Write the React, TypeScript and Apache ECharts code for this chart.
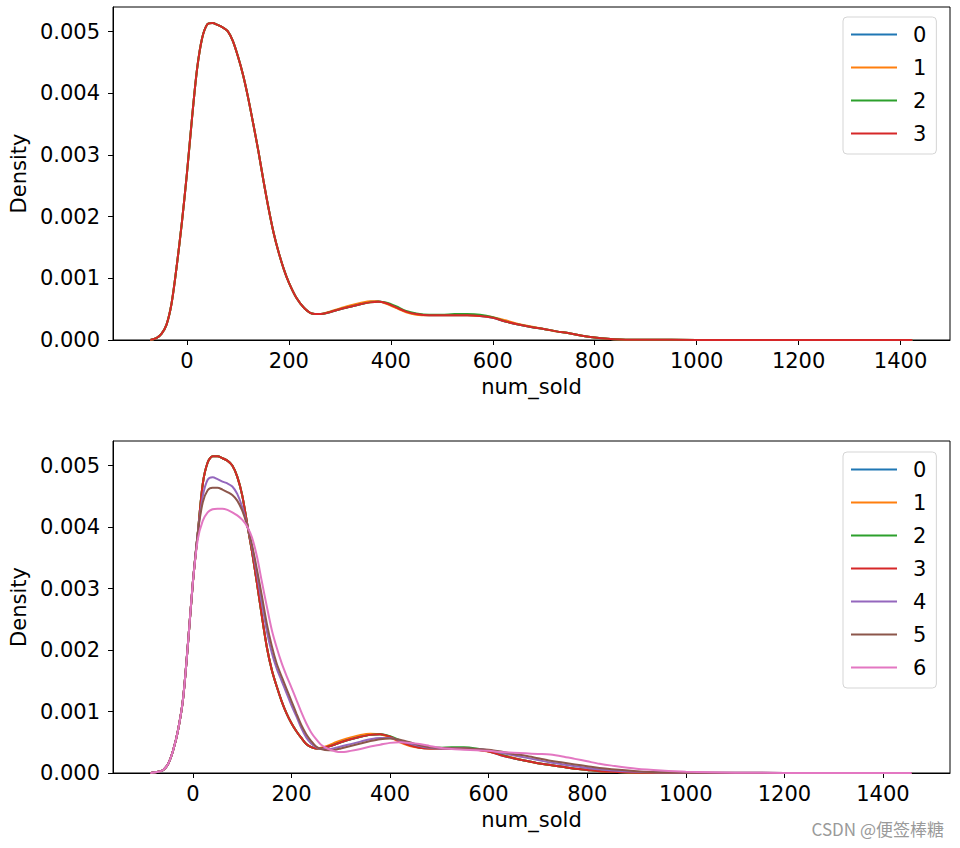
import React, { useEffect, useRef } from "react";
import * as echarts from "echarts";

// ---------- data ----------
const COLORS = ["#1f77b4", "#ff7f0e", "#2ca02c", "#d62728", "#9467bd", "#8c564b", "#e377c2"];

const TOP_X = [-72, -60, -50, -40, -30, -20, -10, 0, 10, 20, 30, 40, 50, 60, 70, 80, 90, 100, 110, 120, 130, 140, 150, 160, 170, 180, 190, 200, 215, 230, 245, 260, 280, 300, 320, 340, 360, 375, 390, 410, 430, 450, 475, 500, 525, 550, 575, 600, 625, 650, 675, 700, 725, 750, 775, 800, 825, 850, 900, 1000, 1100, 1200, 1300, 1423];

const TOP_0 = [0, 0.00003, 0.0001, 0.00025, 0.0006, 0.0012, 0.0019, 0.0027, 0.0036, 0.0044, 0.0049, 0.00512, 0.00514, 0.00511, 0.00507, 0.00501, 0.00485, 0.0046, 0.0043, 0.00393, 0.00351, 0.00307, 0.00259, 0.00214, 0.00174, 0.00142, 0.00115, 0.00093, 0.00068, 0.00052, 0.00043, 0.00042, 0.00045, 0.0005, 0.00054, 0.00058, 0.00062, 0.00063, 0.0006, 0.00053, 0.00046, 0.00042, 0.0004, 0.0004, 0.0004, 0.0004, 0.00039, 0.00036, 0.0003, 0.00025, 0.00021, 0.00018, 0.00014, 0.00011, 0.00007, 0.00004, 0.00002, 0.00001, 0.000004, 0.000002, 0.000002, 0.000002, 0.000001, 0];
const TOP_1 = [0, 0.00003, 0.0001, 0.00025, 0.0006, 0.0012, 0.0019, 0.0027, 0.0036, 0.0044, 0.0049, 0.00512, 0.00514, 0.00511, 0.00507, 0.00501, 0.00485, 0.0046, 0.0043, 0.00393, 0.00351, 0.00307, 0.00259, 0.00214, 0.00174, 0.00142, 0.00115, 0.00093, 0.00068, 0.00052, 0.00043, 0.00042, 0.00046, 0.00051, 0.00056, 0.0006, 0.00063, 0.00063, 0.00059, 0.00052, 0.00045, 0.00041, 0.0004, 0.0004, 0.0004, 0.0004, 0.00039, 0.00037, 0.00032, 0.00026, 0.00022, 0.00018, 0.00014, 0.00011, 0.00007, 0.00004, 0.00002, 0.00001, 0.000004, 0.000002, 0.000002, 0.000002, 0.000001, 0];
const TOP_2 = [0, 0.00003, 0.0001, 0.00025, 0.0006, 0.0012, 0.0019, 0.0027, 0.0036, 0.0044, 0.0049, 0.00512, 0.00514, 0.00511, 0.00507, 0.00501, 0.00485, 0.0046, 0.0043, 0.00393, 0.00351, 0.00307, 0.00259, 0.00214, 0.00174, 0.00142, 0.00115, 0.00093, 0.00068, 0.00052, 0.00043, 0.00042, 0.00045, 0.0005, 0.00054, 0.00058, 0.00061, 0.00062, 0.00061, 0.00055, 0.00047, 0.00043, 0.00041, 0.00041, 0.00042, 0.00042, 0.00041, 0.00037, 0.0003, 0.00025, 0.00021, 0.00018, 0.00014, 0.00011, 0.00007, 0.00004, 0.00002, 0.00001, 0.000004, 0.000002, 0.000002, 0.000002, 0.000001, 0];
const TOP_3 = [0, 0.00003, 0.0001, 0.00025, 0.0006, 0.0012, 0.0019, 0.0027, 0.0036, 0.0044, 0.0049, 0.00512, 0.00514, 0.00511, 0.00507, 0.00501, 0.00485, 0.0046, 0.0043, 0.00393, 0.00351, 0.00307, 0.00259, 0.00214, 0.00174, 0.00142, 0.00115, 0.00093, 0.00068, 0.00052, 0.00043, 0.00042, 0.00045, 0.0005, 0.00054, 0.00058, 0.00061, 0.00062, 0.0006, 0.00053, 0.00046, 0.00042, 0.0004, 0.0004, 0.0004, 0.0004, 0.00039, 0.00036, 0.0003, 0.00025, 0.00021, 0.00018, 0.00014, 0.00011, 0.00007, 0.00004, 0.00002, 0.00001, 0.000004, 0.000002, 0.000002, 0.000002, 0.000001, 0];

const BOT_X = [-86, -70, -60, -50, -40, -30, -20, -10, 0, 10, 20, 30, 40, 50, 60, 70, 80, 90, 100, 110, 120, 130, 140, 150, 160, 170, 180, 190, 200, 210, 220, 230, 240, 250, 260, 275, 290, 300, 320, 340, 360, 380, 400, 420, 440, 460, 480, 500, 525, 550, 575, 600, 625, 650, 675, 700, 725, 750, 775, 800, 825, 850, 900, 950, 1000, 1100, 1200, 1300, 1458];

const BOT_0 = [0, 0.00002, 0.00005, 0.00015, 0.00037, 0.0007, 0.0012, 0.0021, 0.0031, 0.0039, 0.0047, 0.00505, 0.00515, 0.00515, 0.00512, 0.00508, 0.005, 0.00482, 0.00452, 0.00406, 0.0036, 0.00309, 0.00255, 0.00205, 0.00168, 0.00141, 0.00117, 0.00097, 0.00081, 0.00068, 0.00057, 0.00047, 0.00042, 0.0004, 0.0004, 0.00043, 0.00047, 0.0005, 0.00055, 0.00059, 0.00062, 0.00063, 0.00059, 0.00051, 0.00045, 0.00041, 0.0004, 0.0004, 0.0004, 0.0004, 0.00038, 0.00035, 0.00029, 0.00024, 0.0002, 0.00016, 0.00013, 0.0001, 0.00007, 0.00005, 0.00003, 0.00002, 0.000005, 0.000003, 0.000002, 0.000002, 0.000001, 0.000001, 0];
const BOT_1 = [0, 0.00002, 0.00005, 0.00015, 0.00037, 0.0007, 0.0012, 0.0021, 0.0031, 0.0039, 0.0047, 0.00505, 0.00515, 0.00515, 0.00512, 0.00508, 0.005, 0.00482, 0.00452, 0.00406, 0.0036, 0.00309, 0.00255, 0.00205, 0.00168, 0.00141, 0.00117, 0.00097, 0.00081, 0.00068, 0.00057, 0.00047, 0.00042, 0.0004, 0.00041, 0.00045, 0.0005, 0.00053, 0.00058, 0.00062, 0.00064, 0.00063, 0.00058, 0.0005, 0.00044, 0.00041, 0.0004, 0.0004, 0.0004, 0.0004, 0.00038, 0.00035, 0.0003, 0.00025, 0.0002, 0.00016, 0.00013, 0.0001, 0.00007, 0.00005, 0.00003, 0.00002, 0.000005, 0.000003, 0.000002, 0.000002, 0.000001, 0.000001, 0];
const BOT_2 = [0, 0.00002, 0.00005, 0.00015, 0.00037, 0.0007, 0.0012, 0.0021, 0.0031, 0.0039, 0.0047, 0.00505, 0.00515, 0.00515, 0.00512, 0.00508, 0.005, 0.00482, 0.00452, 0.00406, 0.0036, 0.00309, 0.00255, 0.00205, 0.00168, 0.00141, 0.00117, 0.00097, 0.00081, 0.00068, 0.00057, 0.00047, 0.00042, 0.0004, 0.0004, 0.00043, 0.00047, 0.0005, 0.00055, 0.00059, 0.00062, 0.00063, 0.0006, 0.00053, 0.00046, 0.00042, 0.00041, 0.00041, 0.00042, 0.00042, 0.0004, 0.00036, 0.0003, 0.00024, 0.0002, 0.00016, 0.00013, 0.0001, 0.00007, 0.00005, 0.00003, 0.00002, 0.000005, 0.000003, 0.000002, 0.000002, 0.000001, 0.000001, 0];
const BOT_3 = [0, 0.00002, 0.00005, 0.00015, 0.00037, 0.0007, 0.0012, 0.0021, 0.0031, 0.0039, 0.0047, 0.00505, 0.00515, 0.00515, 0.00512, 0.00508, 0.005, 0.00482, 0.00452, 0.00406, 0.0036, 0.00309, 0.00255, 0.00205, 0.00168, 0.00141, 0.00117, 0.00097, 0.00081, 0.00068, 0.00057, 0.00047, 0.00042, 0.0004, 0.0004, 0.00043, 0.00047, 0.0005, 0.00055, 0.00059, 0.00062, 0.00063, 0.00059, 0.00051, 0.00045, 0.00041, 0.0004, 0.0004, 0.0004, 0.0004, 0.00038, 0.00035, 0.00029, 0.00024, 0.0002, 0.00016, 0.00013, 0.0001, 0.00007, 0.00005, 0.00003, 0.00002, 0.000005, 0.000003, 0.000002, 0.000002, 0.000001, 0.000001, 0];
const BOT_4 = [0, 0.00002, 0.00005, 0.00015, 0.00037, 0.0007, 0.0012, 0.0021, 0.0031, 0.0039, 0.0045, 0.00477, 0.00481, 0.00478, 0.00474, 0.00471, 0.00466, 0.00454, 0.00433, 0.00404, 0.00368, 0.00324, 0.00276, 0.00231, 0.00196, 0.0017, 0.0015, 0.0013, 0.0011, 0.00092, 0.00073, 0.00058, 0.00048, 0.00042, 0.00039, 0.00039, 0.00041, 0.00043, 0.00047, 0.00051, 0.00055, 0.00057, 0.00057, 0.00053, 0.00048, 0.00044, 0.00041, 0.0004, 0.0004, 0.0004, 0.00039, 0.00037, 0.00033, 0.00029, 0.00025, 0.00021, 0.00017, 0.00014, 0.00011, 0.00008, 0.00006, 0.00004, 0.00002, 0.00001, 0.000005, 0.000003, 0.000002, 0.000001, 0];
const BOT_5 = [0, 0.00002, 0.00005, 0.00015, 0.00037, 0.0007, 0.0012, 0.0021, 0.0031, 0.0039, 0.0044, 0.0046, 0.00464, 0.00464, 0.00461, 0.00457, 0.00452, 0.00443, 0.00427, 0.00403, 0.00371, 0.00331, 0.00288, 0.00243, 0.00207, 0.00178, 0.00157, 0.00137, 0.00117, 0.00097, 0.00078, 0.00063, 0.00052, 0.00043, 0.00039, 0.00037, 0.00038, 0.0004, 0.00044, 0.00048, 0.00052, 0.00055, 0.00056, 0.00054, 0.0005, 0.00045, 0.00042, 0.00041, 0.0004, 0.0004, 0.00039, 0.00038, 0.00035, 0.00031, 0.00028, 0.00024, 0.0002, 0.00017, 0.00014, 0.00011, 0.00008, 0.00006, 0.00003, 0.00001, 0.000006, 0.000003, 0.000002, 0.000001, 0];
const BOT_6 = [0, 0.00002, 0.00005, 0.00015, 0.00037, 0.0007, 0.0012, 0.0021, 0.0031, 0.0038, 0.0041, 0.00424, 0.00429, 0.0043, 0.0043, 0.00428, 0.00424, 0.00419, 0.00412, 0.00401, 0.00383, 0.00352, 0.00311, 0.00271, 0.00233, 0.00204, 0.00179, 0.00158, 0.00139, 0.00119, 0.00099, 0.00081, 0.00066, 0.00055, 0.00046, 0.00039, 0.00035, 0.00034, 0.00036, 0.00039, 0.00043, 0.00046, 0.00049, 0.0005, 0.00049, 0.00047, 0.00044, 0.00041, 0.00039, 0.00038, 0.00037, 0.00036, 0.00034, 0.00033, 0.00032, 0.00031, 0.0003, 0.00027, 0.00023, 0.00019, 0.00015, 0.00012, 0.00007, 0.00004, 0.00002, 0.000005, 0.000002, 0.000001, 0];

const TOP_SERIES = [TOP_0, TOP_1, TOP_2, TOP_3];
const BOT_SERIES = [BOT_0, BOT_1, BOT_2, BOT_3, BOT_4, BOT_5, BOT_6];
const X_TICKS = [0, 200, 400, 600, 800, 1000, 1200, 1400];
const Y_TICKS = [0, 0.001, 0.002, 0.003, 0.004, 0.005];

const FONT = "DejaVu Sans";
const FS = 21;

function makeXAxis(gridIndex: number, min: number, max: number) {
  return {
    type: "value",
    gridIndex,
    min,
    max,
    name: "num_sold",
    nameLocation: "middle",
    nameGap: 36,
    nameTextStyle: { fontFamily: FONT, fontSize: FS, color: "#000" },
    axisLine: { show: true, onZero: false, lineStyle: { color: "#000", width: 1 } },
    axisTick: { show: true, length: 5, customValues: X_TICKS, lineStyle: { color: "#000" } },
    axisLabel: {
      show: true,
      customValues: X_TICKS,
      margin: 10,
      fontFamily: FONT,
      fontSize: FS,
      color: "#000",
      formatter: (v: number) => String(v),
    },
    splitLine: { show: false },
  };
}

function makeYAxis(gridIndex: number) {
  return {
    type: "value",
    gridIndex,
    min: 0,
    max: 0.0054,
    name: "Density",
    nameLocation: "middle",
    nameGap: 80,
    nameTextStyle: { fontFamily: FONT, fontSize: FS, color: "#000" },
    axisLine: { show: true, onZero: false, lineStyle: { color: "#000", width: 1 } },
    axisTick: { show: true, length: 5, customValues: Y_TICKS, lineStyle: { color: "#000" } },
    axisLabel: {
      show: true,
      customValues: Y_TICKS,
      margin: 13,
      fontFamily: FONT,
      fontSize: FS,
      color: "#000",
      formatter: (v: number) => v.toFixed(3),
    },
    splitLine: { show: false },
  };
}

function makeLegend(names: string[], top: number) {
  return {
    data: names.map((n) => ({ name: n, icon: "rect" })),
    orient: "vertical",
    left: 843,
    top,
    padding: [7, 10, 10, 8],
    itemWidth: 46,
    itemHeight: 2,
    itemGap: 12,
    backgroundColor: "#fff",
    borderColor: "#d5d5d5",
    borderWidth: 1,
    borderRadius: 4,
    textStyle: { fontFamily: FONT, fontSize: FS, color: "#000", padding: [0, 0, 0, 11] },
    selectedMode: false,
  };
}

export default function App() {
  const ref = useRef<HTMLDivElement>(null);
  useEffect(() => {
    if (!ref.current) return;
    const chart = echarts.init(ref.current, null, { renderer: "svg" });
    const series: any[] = [];
    TOP_SERIES.forEach((vals, i) => {
      series.push({
        type: "line",
        name: String(i),
        xAxisIndex: 0,
        yAxisIndex: 0,
        data: TOP_X.map((x, k) => [x, vals[k]]),
        symbol: "none",
        smooth: 0.3,
        lineStyle: { width: 2, color: COLORS[i] },
        itemStyle: { color: COLORS[i] },
      });
    });
    BOT_SERIES.forEach((vals, i) => {
      series.push({
        type: "line",
        name: String(i),
        xAxisIndex: 1,
        yAxisIndex: 1,
        data: BOT_X.map((x, k) => [x, vals[k]]),
        symbol: "none",
        smooth: 0.3,
        lineStyle: { width: 2, color: COLORS[i] },
        itemStyle: { color: COLORS[i] },
      });
    });
    chart.setOption({
      animation: false,
      backgroundColor: "#fff",
      grid: [
        { left: 110, top: 7, width: 840, height: 333, show: true, borderColor: "#000", borderWidth: 1, backgroundColor: "transparent" },
        { left: 110, top: 441, width: 840, height: 332, show: true, borderColor: "#000", borderWidth: 1, backgroundColor: "transparent" },
      ],
      xAxis: [makeXAxis(0, -145, 1497), makeXAxis(1, -162, 1536)],
      yAxis: [makeYAxis(0), makeYAxis(1)],
      legend: [makeLegend(["0", "1", "2", "3"], 17), makeLegend(["0", "1", "2", "3", "4", "5", "6"], 452)],
      series,
      graphic: [
        {
          type: "text",
          right: 16,
          top: 820,
          style: {
            text: "CSDN @便签棒糖",
            fontFamily: "Noto Sans CJK SC",
            fontSize: 17,
            fill: "#9a9a9a",
          },
        },
      ],
    });
    return () => chart.dispose();
  }, []);
  return <div ref={ref} style={{ position: "fixed", left: 0, top: 0, width: 960, height: 848 }} />;
}
